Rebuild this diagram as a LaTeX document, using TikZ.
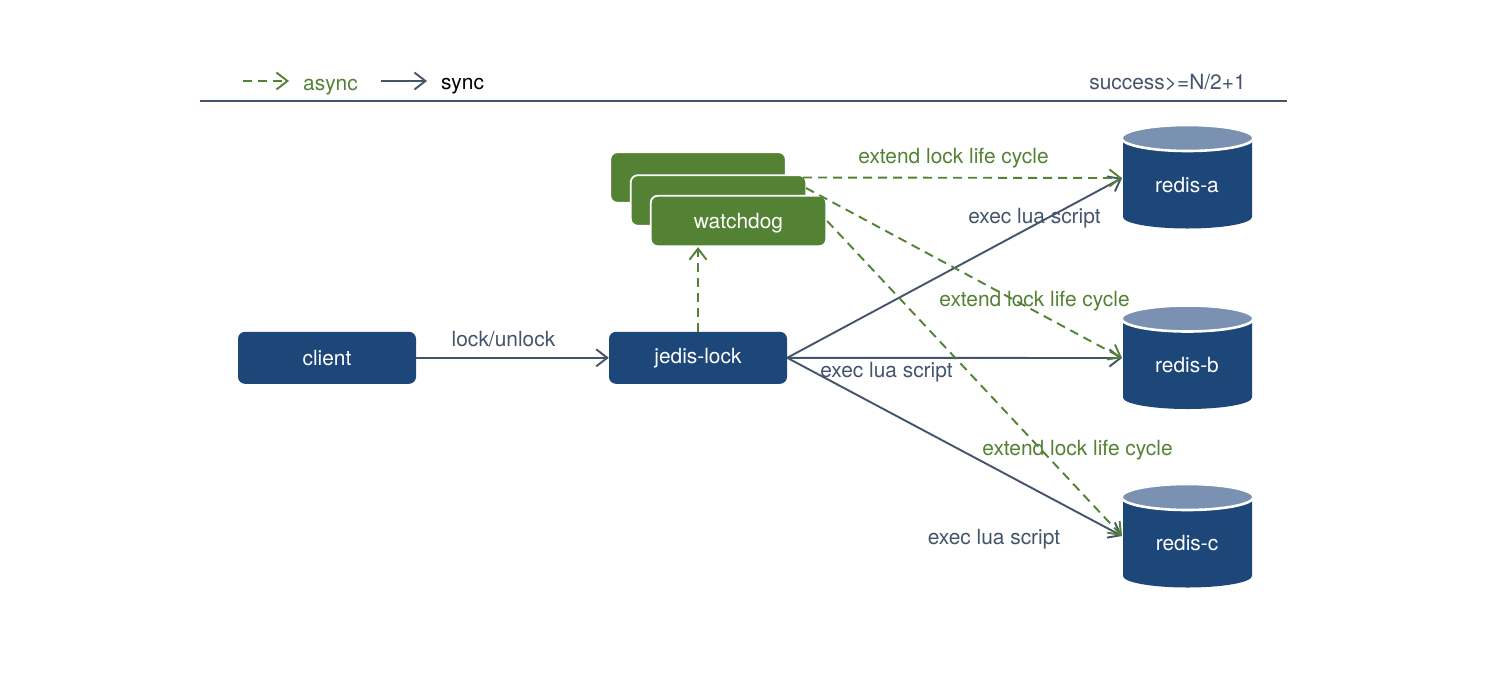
\documentclass[tikz,border=0pt]{standalone}
\usepackage{fontspec}
\setmainfont{TeX Gyre Heros}
\usetikzlibrary{arrows.meta}
\definecolor{navy}{HTML}{1D4679}
\definecolor{lightnavy}{HTML}{7A91B2}
\definecolor{leaf}{HTML}{548235}
\definecolor{slate}{HTML}{44546A}
\tikzset{
  x=1pt,y=-1pt,
  txt/.style={font=\fontsize{20.9}{24}\selectfont,inner sep=0pt,anchor=center},
  lbl/.style={txt,text=slate},
  glbl/.style={txt,text=leaf},
  navybox/.style={txt,text=white,fill=navy,rounded corners=7pt,minimum width=178pt,minimum height=52pt},
  leafbox/.style={txt,text=white,fill=leaf,draw=white,line width=1.8pt,rounded corners=7pt,minimum width=175.5pt,minimum height=50.5pt},
  syncline/.style={draw=slate,line width=1.9pt,-{Straight Barb[length=11pt,width=17pt,line width=1.9pt]}},
  asyncline/.style={draw=leaf,line width=1.9pt,dash pattern=on 9pt off 6pt,-{Straight Barb[length=11pt,width=17pt,line width=1.9pt]}},
  rule/.style={draw=slate,line width=1.8pt},
  dbslot/.style={txt,text=white,minimum width=130pt,minimum height=102pt},
}
\newcommand{\dbcyl}[4]{%
  % #1 name, #2 y of top ellipse centre, #3 text, #4 y of text
  \fill[navy] (1123,#2) -- (1123,#2+79) arc[start angle=180,end angle=360,x radius=64.5,y radius=-11.5] -- (1252,#2) -- cycle;
  \fill[lightnavy,draw=white,line width=2.6pt] (1187.5,#2) ellipse[x radius=66,y radius=13];
  \node[dbslot] (#1) at (1187.5,#2+26) {};
  \node[txt,text=white] at (1187,#4) {#3};
}
\begin{document}
\begin{tikzpicture}
\useasboundingbox (0,0) rectangle (1492,694);
\fill[white] (0,0) rectangle (1492,694);
% legend
\coordinate (ruleL) at (200,101);
\coordinate (ruleR) at (1287,101);
\draw[rule] (ruleL) -- (ruleR);
\coordinate (aL) at (243,81);
\coordinate (aR) at (289,81);
\coordinate (sL) at (381,81);
\coordinate (sR) at (427,81);
\draw[asyncline] (aL) -- (aR);
\draw[syncline] (sL) -- (sR);
\node[glbl] (lasync) at (330.5,87) {async};
\node[txt] (lsync) at (462.5,86) {sync};
\node[lbl] (lsucc) at (1167.5,83) {success>=N/2+1};
% nodes
\node[navybox] (client) at (327,357.8) {client};
\node[navybox] (jedis) at (698,357.8) {jedis-lock};
\node[leafbox] (wd1) at (698,177.5) {};
\node[leafbox] (wd2) at (718.5,200.5) {};
\node[leafbox,text height=19.6pt,text depth=5pt] (wd3) at (738.5,221) {watchdog};
\dbcyl{ra}{138}{redis-a}{185}
\dbcyl{rb}{318.5}{redis-b}{365}
\dbcyl{rc}{497}{redis-c}{543}
% tips
\coordinate (ta) at (1122,178);
\coordinate (tb) at (1122,358);
\coordinate (tc) at (1122,536);
\coordinate (wd2a) at (803,177.5);
\coordinate (wd2s) at (806,188);
% connectors
\draw[syncline] (client.east) -- (jedis.west);
\draw[syncline] (jedis.east) -- (ta);
\draw[syncline] (jedis.east) -- (tb);
\draw[syncline] (jedis.east) -- (tc);
\draw[asyncline] (jedis.north) -- (wd3.south -| jedis.north);
\draw[asyncline] (wd2a) -- (ta);
\draw[asyncline] (wd2s) -- (tb);
\draw[asyncline] (wd3.east) -- (tc);
% labels
\node[lbl] (l1) at (503.5,339) {lock/unlock};
\node[glbl] (l2) at (953.5,158) {extend lock life cycle};
\node[glbl] (l3) at (1034.5,301) {extend lock life cycle};
\node[glbl] (l4) at (1077.5,450) {extend lock life cycle};
\node[lbl] (l5) at (1034.5,218) {exec lua script};
\node[lbl] (l6) at (886.5,372) {exec lua script};
\node[lbl] (l7) at (994,539) {exec lua script};
\end{tikzpicture}
\end{document}
